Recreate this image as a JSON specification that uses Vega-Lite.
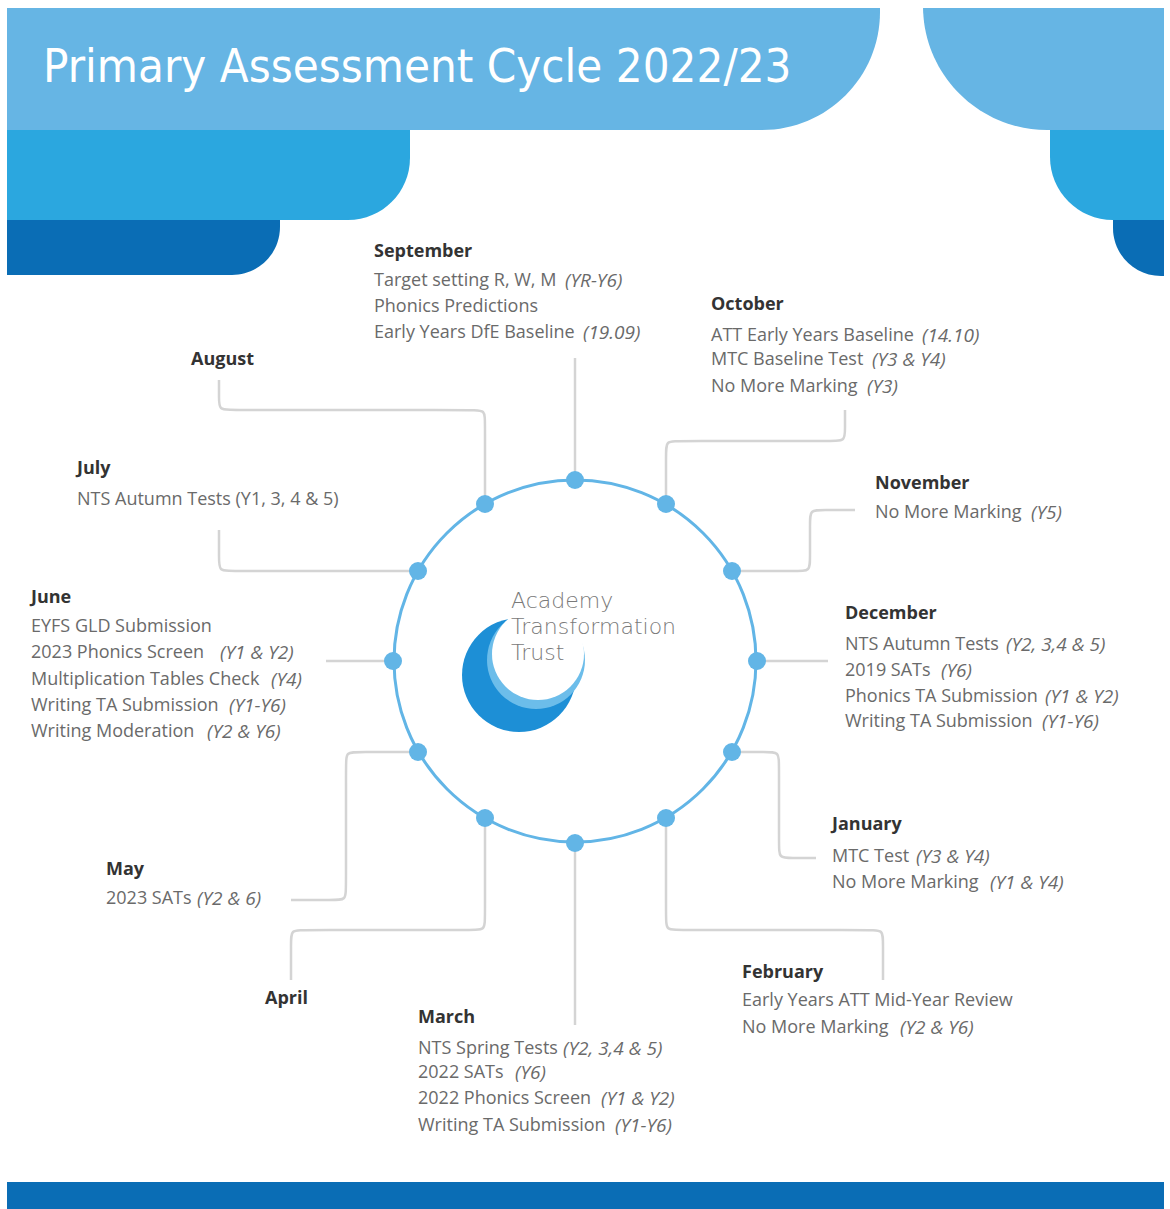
{
  "$schema": "https://vega.github.io/schema/vega-lite/v6.json",
  "width": 1170,
  "height": 1209,
  "autosize": {"type": "none"},
  "padding": 0,
  "background": "#ffffff",
  "config": {"view": {"stroke": null}},
  "datasets": {
    "shapes": [
      {"name": "leftDark", "x": 7, "x2": 280, "y": -300, "y2": 275},
      {"name": "leftMid", "x": 7, "x2": 410, "y": -300, "y2": 220},
      {"name": "leftLight", "x": 7, "x2": 880, "y": -300, "y2": 130},
      {"name": "rightDark", "x": 1113, "x2": 1400, "y": -300, "y2": 276},
      {"name": "rightMid", "x": 1050, "x2": 1400, "y": -300, "y2": 220},
      {"name": "rightLight", "x": 923, "x2": 1400, "y": -300, "y2": 130},
      {"name": "footer", "x": 7, "x2": 1165, "y": 1182, "y2": 1260},
      {"name": "topMargin", "x": 0, "x2": 1170, "y": -400, "y2": 8},
      {"name": "rightMargin", "x": 1164, "x2": 1400, "y": -400, "y2": 1300}
    ],
    "paths": [
      {"month": "September", "step": 1, "x": 575, "y": 480},
      {"month": "September", "step": 2, "x": 575, "y": 358},
      {"month": "October", "step": 1, "x": 666, "y": 505},
      {"month": "October", "step": 2, "x": 666, "y": 453},
      {"month": "October", "step": 3, "x": 666, "y": 441},
      {"month": "October", "step": 4, "x": 678, "y": 441},
      {"month": "October", "step": 5, "x": 833, "y": 441},
      {"month": "October", "step": 6, "x": 845, "y": 441},
      {"month": "October", "step": 7, "x": 845, "y": 429},
      {"month": "October", "step": 8, "x": 845, "y": 410},
      {"month": "November", "step": 1, "x": 733, "y": 571},
      {"month": "November", "step": 2, "x": 798, "y": 571},
      {"month": "November", "step": 3, "x": 810, "y": 571},
      {"month": "November", "step": 4, "x": 810, "y": 559},
      {"month": "November", "step": 5, "x": 810, "y": 522},
      {"month": "November", "step": 6, "x": 810, "y": 510},
      {"month": "November", "step": 7, "x": 822, "y": 510},
      {"month": "November", "step": 8, "x": 855, "y": 510},
      {"month": "December", "step": 1, "x": 757, "y": 661},
      {"month": "December", "step": 2, "x": 828, "y": 661},
      {"month": "January", "step": 1, "x": 733, "y": 752},
      {"month": "January", "step": 2, "x": 767, "y": 752},
      {"month": "January", "step": 3, "x": 779, "y": 752},
      {"month": "January", "step": 4, "x": 779, "y": 764},
      {"month": "January", "step": 5, "x": 779, "y": 846},
      {"month": "January", "step": 6, "x": 779, "y": 858},
      {"month": "January", "step": 7, "x": 791, "y": 858},
      {"month": "January", "step": 8, "x": 816, "y": 858},
      {"month": "February", "step": 1, "x": 666, "y": 818},
      {"month": "February", "step": 2, "x": 666, "y": 918},
      {"month": "February", "step": 3, "x": 666, "y": 930},
      {"month": "February", "step": 4, "x": 678, "y": 930},
      {"month": "February", "step": 5, "x": 871, "y": 930},
      {"month": "February", "step": 6, "x": 883, "y": 930},
      {"month": "February", "step": 7, "x": 883, "y": 942},
      {"month": "February", "step": 8, "x": 883, "y": 980},
      {"month": "March", "step": 1, "x": 575, "y": 843},
      {"month": "March", "step": 2, "x": 575, "y": 1025},
      {"month": "April", "step": 1, "x": 485, "y": 818},
      {"month": "April", "step": 2, "x": 485, "y": 918},
      {"month": "April", "step": 3, "x": 485, "y": 930},
      {"month": "April", "step": 4, "x": 473, "y": 930},
      {"month": "April", "step": 5, "x": 303, "y": 930},
      {"month": "April", "step": 6, "x": 291, "y": 930},
      {"month": "April", "step": 7, "x": 291, "y": 942},
      {"month": "April", "step": 8, "x": 291, "y": 980},
      {"month": "May", "step": 1, "x": 418, "y": 752},
      {"month": "May", "step": 2, "x": 358, "y": 752},
      {"month": "May", "step": 3, "x": 346, "y": 752},
      {"month": "May", "step": 4, "x": 346, "y": 764},
      {"month": "May", "step": 5, "x": 346, "y": 888},
      {"month": "May", "step": 6, "x": 346, "y": 900},
      {"month": "May", "step": 7, "x": 334, "y": 900},
      {"month": "May", "step": 8, "x": 291, "y": 900},
      {"month": "June", "step": 1, "x": 393, "y": 661},
      {"month": "June", "step": 2, "x": 326, "y": 661},
      {"month": "July", "step": 1, "x": 418, "y": 571},
      {"month": "July", "step": 2, "x": 231, "y": 571},
      {"month": "July", "step": 3, "x": 219, "y": 571},
      {"month": "July", "step": 4, "x": 219, "y": 559},
      {"month": "July", "step": 5, "x": 219, "y": 530},
      {"month": "August", "step": 1, "x": 485, "y": 505},
      {"month": "August", "step": 2, "x": 485, "y": 422},
      {"month": "August", "step": 3, "x": 485, "y": 410},
      {"month": "August", "step": 4, "x": 473, "y": 410},
      {"month": "August", "step": 5, "x": 231, "y": 410},
      {"month": "August", "step": 6, "x": 219, "y": 410},
      {"month": "August", "step": 7, "x": 219, "y": 398},
      {"month": "August", "step": 8, "x": 219, "y": 380}
    ],
    "ring": [{"x": 575, "y": 661}],
    "dots": [
      {"month": "September", "x": 575, "y": 480},
      {"month": "October", "x": 666, "y": 504},
      {"month": "November", "x": 732, "y": 571},
      {"month": "December", "x": 757, "y": 661},
      {"month": "January", "x": 732, "y": 752},
      {"month": "February", "x": 666, "y": 818},
      {"month": "March", "x": 575, "y": 843},
      {"month": "April", "x": 485, "y": 818},
      {"month": "May", "x": 418, "y": 752},
      {"month": "June", "x": 393, "y": 661},
      {"month": "July", "x": 418, "y": 571},
      {"month": "August", "x": 485, "y": 504}
    ],
    "logo": [
      {"part": "outer", "x": 519, "y": 675},
      {"part": "wave", "x": 536, "y": 660},
      {"part": "cut", "x": 538, "y": 654}
    ],
    "logoText": [
      {"x": 511, "y": 601, "text": "Academy"},
      {"x": 511, "y": 627, "text": "Transformation"},
      {"x": 511, "y": 653, "text": "Trust"}
    ],
    "title": [{"x": 43, "y": 68, "text": "Primary Assessment Cycle 2022/23"}],
    "labels": [
      {"kind": "head", "x": 374, "y": 252, "text": "September"},
      {"kind": "item", "x": 374, "y": 281, "text": "Target setting R, W, M"},
      {"kind": "note", "x": 565, "y": 281, "text": "(YR-Y6)"},
      {"kind": "item", "x": 374, "y": 307, "text": "Phonics Predictions"},
      {"kind": "item", "x": 374, "y": 333, "text": "Early Years DfE Baseline"},
      {"kind": "note", "x": 583, "y": 333, "text": "(19.09)"},
      {"kind": "head", "x": 711, "y": 305, "text": "October"},
      {"kind": "item", "x": 711, "y": 336, "text": "ATT Early Years Baseline"},
      {"kind": "note", "x": 922, "y": 336, "text": "(14.10)"},
      {"kind": "item", "x": 711, "y": 360, "text": "MTC Baseline Test"},
      {"kind": "note", "x": 872, "y": 360, "text": "(Y3 & Y4)"},
      {"kind": "item", "x": 711, "y": 387, "text": "No More Marking"},
      {"kind": "note", "x": 867, "y": 387, "text": "(Y3)"},
      {"kind": "head", "x": 875, "y": 484, "text": "November"},
      {"kind": "item", "x": 875, "y": 513, "text": "No More Marking"},
      {"kind": "note", "x": 1031, "y": 513, "text": "(Y5)"},
      {"kind": "head", "x": 845, "y": 614, "text": "December"},
      {"kind": "item", "x": 845, "y": 645, "text": "NTS Autumn Tests"},
      {"kind": "note", "x": 1006, "y": 645, "text": "(Y2, 3,4 & 5)"},
      {"kind": "item", "x": 845, "y": 671, "text": "2019 SATs"},
      {"kind": "note", "x": 941, "y": 671, "text": "(Y6)"},
      {"kind": "item", "x": 845, "y": 697, "text": "Phonics TA Submission"},
      {"kind": "note", "x": 1045, "y": 697, "text": "(Y1 & Y2)"},
      {"kind": "item", "x": 845, "y": 722, "text": "Writing TA Submission"},
      {"kind": "note", "x": 1042, "y": 722, "text": "(Y1-Y6)"},
      {"kind": "head", "x": 832, "y": 825, "text": "January"},
      {"kind": "item", "x": 832, "y": 857, "text": "MTC Test"},
      {"kind": "note", "x": 916, "y": 857, "text": "(Y3 & Y4)"},
      {"kind": "item", "x": 832, "y": 883, "text": "No More Marking"},
      {"kind": "note", "x": 990, "y": 883, "text": "(Y1 & Y4)"},
      {"kind": "head", "x": 742, "y": 973, "text": "February"},
      {"kind": "item", "x": 742, "y": 1001, "text": "Early Years ATT Mid-Year Review"},
      {"kind": "item", "x": 742, "y": 1028, "text": "No More Marking"},
      {"kind": "note", "x": 900, "y": 1028, "text": "(Y2 & Y6)"},
      {"kind": "head", "x": 418, "y": 1018, "text": "March"},
      {"kind": "item", "x": 418, "y": 1049, "text": "NTS Spring Tests"},
      {"kind": "note", "x": 563, "y": 1049, "text": "(Y2, 3,4 & 5)"},
      {"kind": "item", "x": 418, "y": 1073, "text": "2022 SATs"},
      {"kind": "note", "x": 515, "y": 1073, "text": "(Y6)"},
      {"kind": "item", "x": 418, "y": 1099, "text": "2022 Phonics Screen"},
      {"kind": "note", "x": 601, "y": 1099, "text": "(Y1 & Y2)"},
      {"kind": "item", "x": 418, "y": 1126, "text": "Writing TA Submission"},
      {"kind": "note", "x": 615, "y": 1126, "text": "(Y1-Y6)"},
      {"kind": "head", "x": 265, "y": 999, "text": "April"},
      {"kind": "head", "x": 106, "y": 870, "text": "May"},
      {"kind": "item", "x": 106, "y": 899, "text": "2023 SATs"},
      {"kind": "note", "x": 197, "y": 899, "text": "(Y2 & 6)"},
      {"kind": "head", "x": 31, "y": 598, "text": "June"},
      {"kind": "item", "x": 31, "y": 627, "text": "EYFS GLD Submission"},
      {"kind": "item", "x": 31, "y": 653, "text": "2023 Phonics Screen"},
      {"kind": "note", "x": 220, "y": 653, "text": "(Y1 & Y2)"},
      {"kind": "item", "x": 31, "y": 680, "text": "Multiplication Tables Check"},
      {"kind": "note", "x": 271, "y": 680, "text": "(Y4)"},
      {"kind": "item", "x": 31, "y": 706, "text": "Writing TA Submission"},
      {"kind": "note", "x": 229, "y": 706, "text": "(Y1-Y6)"},
      {"kind": "item", "x": 31, "y": 732, "text": "Writing Moderation"},
      {"kind": "note", "x": 207, "y": 732, "text": "(Y2 & Y6)"},
      {"kind": "head", "x": 77, "y": 469, "text": "July"},
      {"kind": "item", "x": 77, "y": 500, "text": "NTS Autumn Tests (Y1, 3, 4 & 5)"},
      {"kind": "head", "x": 191, "y": 360, "text": "August"}
    ]
  },
  "encoding": {
    "x": {"field": "x", "type": "quantitative", "scale": {"domain": [0, 1170], "nice": false, "zero": false}, "axis": null},
    "y": {"field": "y", "type": "quantitative", "scale": {"domain": [0, 1209], "nice": false, "zero": false, "reverse": true}, "axis": null}
  },
  "layer": [
    {"data": {"name": "shapes"}, "transform": [{"filter": "datum.name === 'leftDark'"}], "mark": {"type": "rect", "color": "#0a6db5", "cornerRadiusBottomRight": 48, "clip": true}, "encoding": {"x2": {"field": "x2"}, "y2": {"field": "y2"}}},
    {"data": {"name": "shapes"}, "transform": [{"filter": "datum.name === 'leftMid'"}], "mark": {"type": "rect", "color": "#2ba7df", "cornerRadiusBottomRight": 62, "clip": true}, "encoding": {"x2": {"field": "x2"}, "y2": {"field": "y2"}}},
    {"data": {"name": "shapes"}, "transform": [{"filter": "datum.name === 'leftLight'"}], "mark": {"type": "rect", "color": "#66b5e4", "cornerRadiusBottomRight": 118, "clip": true}, "encoding": {"x2": {"field": "x2"}, "y2": {"field": "y2"}}},
    {"data": {"name": "shapes"}, "transform": [{"filter": "datum.name === 'rightDark'"}], "mark": {"type": "rect", "color": "#0a6db5", "cornerRadiusBottomLeft": 48, "clip": true}, "encoding": {"x2": {"field": "x2"}, "y2": {"field": "y2"}}},
    {"data": {"name": "shapes"}, "transform": [{"filter": "datum.name === 'rightMid'"}], "mark": {"type": "rect", "color": "#2ba7df", "cornerRadiusBottomLeft": 63, "clip": true}, "encoding": {"x2": {"field": "x2"}, "y2": {"field": "y2"}}},
    {"data": {"name": "shapes"}, "transform": [{"filter": "datum.name === 'rightLight'"}], "mark": {"type": "rect", "color": "#66b5e4", "cornerRadiusBottomLeft": 124, "clip": true}, "encoding": {"x2": {"field": "x2"}, "y2": {"field": "y2"}}},
    {"data": {"name": "shapes"}, "transform": [{"filter": "datum.name === 'footer'"}], "mark": {"type": "rect", "color": "#0a6db5", "clip": true}, "encoding": {"x2": {"field": "x2"}, "y2": {"field": "y2"}}},
    {"data": {"name": "shapes"}, "transform": [{"filter": "datum.name === 'topMargin' || datum.name === 'rightMargin'"}], "mark": {"type": "rect", "color": "#ffffff", "clip": true}, "encoding": {"x2": {"field": "x2"}, "y2": {"field": "y2"}}},
    {"data": {"name": "title"}, "mark": {"type": "text", "align": "left", "baseline": "middle", "font": "DejaVu Sans Condensed, Liberation Sans Narrow, DejaVu Sans", "fontSize": 47, "color": "#ffffff"}, "encoding": {"text": {"field": "text"}}},
    {"data": {"name": "paths"}, "mark": {"type": "line", "color": "#d4d4d4", "strokeWidth": 2.5, "strokeJoin": "round", "interpolate": "basis"}, "encoding": {"detail": {"field": "month"}, "order": {"field": "step"}}},
    {"data": {"name": "ring"}, "mark": {"type": "point", "shape": "circle", "filled": false, "size": 131044, "stroke": "#62b5e6", "strokeWidth": 3, "opacity": 1}},
    {"data": {"name": "dots"}, "mark": {"type": "point", "shape": "circle", "filled": true, "size": 324, "color": "#62b5e6", "opacity": 1}},
    {"data": {"name": "logo"}, "transform": [{"filter": "datum.part === 'outer'"}], "mark": {"type": "point", "shape": "circle", "filled": true, "size": 12996, "color": "#1d8fd6", "opacity": 1}},
    {"data": {"name": "logo"}, "transform": [{"filter": "datum.part === 'wave'"}], "mark": {"type": "point", "shape": "circle", "filled": true, "size": 9604, "color": "#6cbdea", "opacity": 1}},
    {"data": {"name": "logo"}, "transform": [{"filter": "datum.part === 'cut'"}], "mark": {"type": "point", "shape": "circle", "filled": true, "size": 8464, "color": "#ffffff", "opacity": 1}},
    {"data": {"name": "logoText"}, "mark": {"type": "text", "align": "left", "baseline": "middle", "font": "DejaVu Sans", "fontWeight": 200, "fontSize": 22, "color": "#7a7a7a"}, "encoding": {"text": {"field": "text"}}},
    {"data": {"name": "labels"}, "transform": [{"filter": "datum.kind === 'head'"}], "mark": {"type": "text", "align": "left", "baseline": "middle", "font": "Open Sans", "fontWeight": "bold", "fontSize": 18, "color": "#333333"}, "encoding": {"text": {"field": "text"}}},
    {"data": {"name": "labels"}, "transform": [{"filter": "datum.kind === 'item'"}], "mark": {"type": "text", "align": "left", "baseline": "middle", "font": "Open Sans", "fontSize": 18, "color": "#6a6a6a"}, "encoding": {"text": {"field": "text"}}},
    {"data": {"name": "labels"}, "transform": [{"filter": "datum.kind === 'note'"}], "mark": {"type": "text", "align": "left", "baseline": "middle", "font": "Open Sans", "fontStyle": "italic", "fontSize": 19, "color": "#6a6a6a"}, "encoding": {"text": {"field": "text"}}}
  ]
}
